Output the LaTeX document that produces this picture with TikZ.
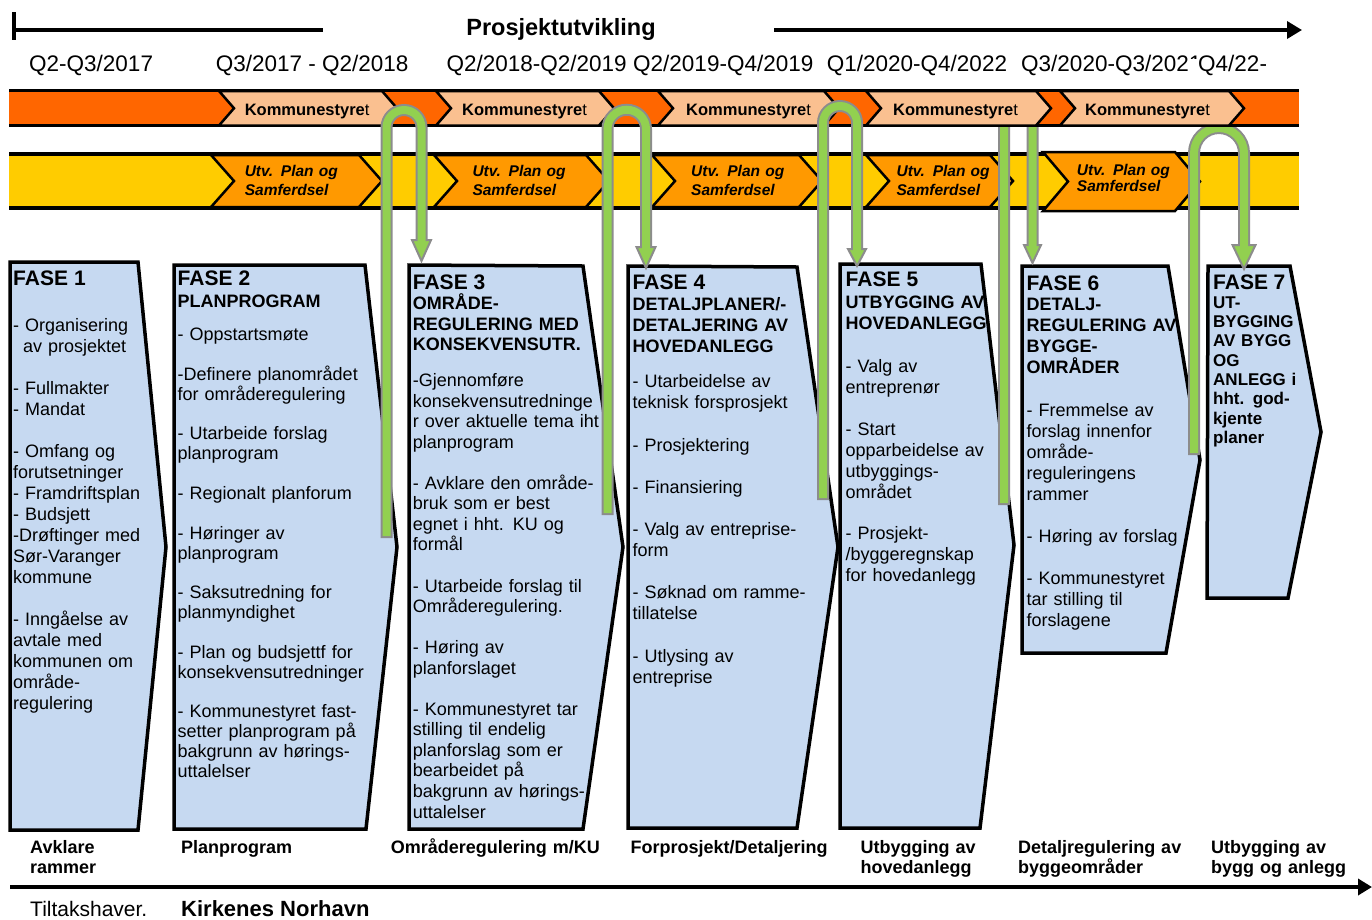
\documentclass[tikz,border=0pt]{standalone}
\usepackage{fontspec}
\setmainfont{Liberation Sans}
\usetikzlibrary{arrows.meta}
\definecolor{orangeband}{RGB}{255,102,0}
\definecolor{kfill}{RGB}{250,192,144}
\definecolor{yellowband}{RGB}{255,204,0}
\definecolor{ufill}{RGB}{255,153,0}
\definecolor{boxfill}{RGB}{198,217,241}
\definecolor{tubegreen}{RGB}{146,208,80}
\definecolor{tubegray}{RGB}{140,140,140}
\newcommand\fh[1]{{\fontsize{21}{21}\selectfont\bfseries #1}}
% chevron: L, R, top, bottom, depth, style
\newcommand\mychev[6]{\draw[#6] (#1,#3) -- ({#2-#5},#3) -- (#2,{(#3+#4)/2}) -- ({#2-#5},#4) -- (#1,#4) -- ({#1+#5},{(#3+#4)/2}) -- cycle;}
% green U-arrow: name, Lx, bottom, Rx, arc centre y, head base y, tip y, half width
\newcommand\garrow[8]{%
  \coordinate (#1-from) at (#2,#3);
  \coordinate (#1-turnL) at (#2,#5);
  \coordinate (#1-base) at (#4,#6);
  \coordinate (#1-inner) at (#4,{#6+3});
  \coordinate (#1-to) at (#4,#7);
  \draw[tubeout] (#1-from) -- (#1-turnL) arc[start angle=180,end angle=360,radius={(#4-#2)/2}] -- (#1-base);
  \filldraw[headstyle] ([xshift=-#8pt]#1-base) -- ([xshift=#8pt]#1-base) -- (#1-to) -- cycle;
  \draw[tubein,shorten <=2pt] (#1-from) -- (#1-turnL) arc[start angle=180,end angle=360,radius={(#4-#2)/2}] -- (#1-inner);
}
\begin{document}
\begin{tikzpicture}[x=1pt,y=-1pt,
  bandline/.style={line width=3.5pt},
  kchev/.style={fill=kfill,draw=black,line width=2.5pt,line join=miter},
  uchev/.style={fill=ufill,draw=black,line width=2.5pt,line join=miter},
  boxline/.style={draw=black,line width=3.5pt,line join=miter},
  tubeout/.style={draw=tubegray,line width=12pt},
  tubein/.style={draw=tubegreen,line width=8pt},
  headstyle/.style={fill=tubegreen,draw=tubegray,line width=2pt,line join=miter},
  ktext/.style={anchor=base west,inner sep=0pt,font=\fontsize{16.5}{18}\selectfont},
  utext/.style={anchor=base west,inner sep=0pt,text width=130pt,align=left,font=\bfseries\itshape\fontsize{15.5}{18.3}\selectfont},
  qlabel/.style={anchor=base west,inner sep=0pt,font=\fontsize{22.5}{24}\selectfont},
  blabel/.style={anchor=base west,inner sep=0pt,text width=240pt,align=left,font=\bfseries\fontsize{18}{20.5}\selectfont},
  ptext/.style={anchor=base west,inner sep=0pt,text width=260pt,align=left}
]
\useasboundingbox (0,0) rectangle (1372,919);
\fill[white] (0,0) rectangle (1372,919);

% ---------- header ----------
\coordinate (h0) at (14,12);
\coordinate (h1) at (14,40);
\coordinate (h2) at (14,30);
\coordinate (h3) at (323,30);
\draw[line width=3.5pt] (h0) -- (h1);
\draw[line width=3.5pt] (h2) -- (h3);
\node[anchor=base,inner sep=0pt,font=\bfseries\fontsize{23.5}{25}\selectfont] (title) at (561,35) {Prosjektutvikling};
\coordinate (ta) at (774,30);
\coordinate (tb) at (1302,30);
\draw[line width=3.5pt,-{Triangle[length=15pt,width=17pt]}] (ta) -- (tb);

\node[qlabel] (q1) at (29,71.5) {Q2-Q3/2017};
\node[qlabel] (q2) at (215.6,71.5) {Q3/2017 - Q2/2018};
\node[qlabel] (q3) at (446.4,71.5) {Q2/2018-Q2/2019};
\node[qlabel] (q4) at (633,71.5) {Q2/2019-Q4/2019};
\node[qlabel] (q5) at (826.7,71.5) {Q1/2020-Q4/2022};
\node[qlabel] (q6) at (1021,71.5) {Q3/2020-Q3/2021};
\node[qlabel,fill=white,inner xsep=10pt,text height=12.5pt,text depth=6pt] (q7) at (1188,71.5) {Q4/22-};

% ---------- phase boxes: fill ----------
\fill[boxfill] (10,262) -- (138,262) -- (166,547) -- (138,830) -- (10,830) -- cycle;
\fill[boxfill] (174,265) -- (365,265) -- (397,547) -- (366,829) -- (174,829) -- cycle;
\fill[boxfill] (409,265) -- (583,266) -- (623,547) -- (583,829) -- (409,829) -- cycle;
\fill[boxfill] (628,266) -- (797,267) -- (838,547) -- (797,828) -- (628,828) -- cycle;
\fill[boxfill] (840,264) -- (981,264) -- (1014,545) -- (980,828) -- (840,828) -- cycle;
\fill[boxfill] (1022,266) -- (1168,266) -- (1200,460) -- (1166,653) -- (1022,653) -- cycle;
\fill[boxfill] (1208,266) -- (1290,266) -- (1321,432) -- (1288,598) -- (1207,598) -- cycle;

% ---------- phase texts ----------
\node[ptext,font=\fontsize{18}{21}\selectfont] (f1) at (13,285.7) {\fh{FASE 1}\\[25pt]
- Organisering\\
\hspace*{10pt}av prosjektet\\[\baselineskip]
- Fullmakter\\
- Mandat\\[\baselineskip]
- Omfang og\\
forutsetninger\\
- Framdriftsplan\\
- Budsjett\\
-Drøftinger med\\
Sør-Varanger\\
kommune\\[\baselineskip]
- Inngåelse av\\
avtale med\\
kommunen om\\
område-\\
regulering};

\node[ptext,font=\fontsize{18}{19.85}\selectfont] (f2) at (177.5,285.7) {\fh{FASE 2}\\[1.75pt]
\textbf{PLANPROGRAM}\\[13.5pt]
- Oppstartsmøte\\[\baselineskip]
-Definere planområdet\\
for områderegulering\\[\baselineskip]
- Utarbeide forslag\\
planprogram\\[\baselineskip]
- Regionalt planforum\\[\baselineskip]
- Høringer av\\
planprogram\\[\baselineskip]
- Saksutredning for\\
planmyndighet\\[\baselineskip]
- Plan og budsjettf for\\
konsekvensutredninger\\[\baselineskip]
- Kommunestyret fast-\\
setter planprogram på\\
bakgrunn av hørings-\\
uttalelser};

\node[ptext,font=\fontsize{18}{20.55}\selectfont] (f3) at (412.7,289.3) {\fh{FASE 3}\\
\textbf{OMRÅDE-}\\
\textbf{REGULERING MED}\\
\textbf{KONSEKVENSUTR.}\\[15pt]
-Gjennomføre\\
konsekvensutredninge\\
r over aktuelle tema iht\\
planprogram\\[\baselineskip]
- Avklare den område-\\
bruk som er best\\
egnet i hht. KU og\\
formål\\[\baselineskip]
- Utarbeide forslag til\\
Områderegulering.\\[\baselineskip]
- Høring av\\
planforslaget\\[\baselineskip]
- Kommunestyret tar\\
stilling til endelig\\
planforslag som er\\
bearbeidet på\\
bakgrunn av hørings-\\
uttalelser};

\node[ptext,font=\fontsize{18}{21.1}\selectfont] (f4) at (632.5,289.3) {\fh{FASE 4}\\[-0.4pt]
\textbf{DETALJPLANER/-}\\
\textbf{DETALJERING AV}\\
\textbf{HOVEDANLEGG}\\[14.5pt]
- Utarbeidelse av\\
teknisk forsprosjekt\\[\baselineskip]
- Prosjektering\\[\baselineskip]
- Finansiering\\[\baselineskip]
- Valg av entreprise-\\
form\\[\baselineskip]
- Søknad om ramme-\\
tillatelse\\[\baselineskip]
- Utlysing av\\
entreprise};

\node[ptext,font=\fontsize{18}{20.9}\selectfont] (f5) at (845.5,286.7) {\fh{FASE 5}\\[0.7pt]
\textbf{UTBYGGING AV}\\
\textbf{HOVEDANLEGG}\\[22.5pt]
- Valg av\\
entreprenør\\[\baselineskip]
- Start\\
opparbeidelse av\\
utbyggings-\\
området\\[\baselineskip]
- Prosjekt-\\
/byggeregnskap\\
for hovedanlegg};

\node[ptext,font=\fontsize{18}{21}\selectfont] (f6) at (1026.5,290) {\fh{FASE 6}\\[-1pt]
\textbf{DETALJ-}\\
\textbf{REGULERING AV}\\
\textbf{BYGGE-}\\
\textbf{OMRÅDER}\\[22.4pt]
- Fremmelse av\\
forslag innenfor\\
område-\\
reguleringens\\
rammer\\[\baselineskip]
- Høring av forslag\\[\baselineskip]
- Kommunestyret\\
tar stilling til\\
forslagene};

\node[ptext,font=\bfseries\fontsize{17}{19.3}\selectfont] (f7) at (1213,289.3) {\fh{FASE 7}\\[-0.3pt]
UT-\\
BYGGING\\
AV BYGG\\
OG\\
ANLEGG i\\
hht. god-\\
kjente\\
planer};

% ---------- phase boxes: borders ----------
\draw[boxline] (10,262) -- (138,262) -- (166,547) -- (138,830) -- (10,830) -- cycle;
\draw[boxline] (174,265) -- (365,265) -- (397,547) -- (366,829) -- (174,829) -- cycle;
\draw[boxline] (409,265) -- (583,266) -- (623,547) -- (583,829) -- (409,829) -- cycle;
\draw[boxline] (628,266) -- (797,267) -- (838,547) -- (797,828) -- (628,828) -- cycle;
\draw[boxline] (840,264) -- (981,264) -- (1014,545) -- (980,828) -- (840,828) -- cycle;
\draw[boxline] (1022,266) -- (1168,266) -- (1200,460) -- (1166,653) -- (1022,653) -- cycle;
\draw[boxline] (1208,266) -- (1290,266) -- (1321,432) -- (1288,598) -- (1207,598) -- cycle;

% ---------- yellow band ----------
\fill[yellowband] (9,154) rectangle (1299,208);
\draw[bandline] (9,154) -- (1299,154);
\draw[bandline] (9,208) -- (1299,208);
\mychev{211}{382}{155}{207}{23}{uchev}
\mychev{434}{609}{155}{207}{23}{uchev}
\mychev{652}{822}{155}{207}{23}{uchev}
\mychev{866}{1013}{155}{207}{23}{uchev}
\mychev{1043}{1200}{152}{211}{25}{uchev}
\node[utext] (u1) at (244.6,176.7) {Utv. Plan og\\Samferdsel};
\node[utext] (u2) at (472.3,176.7) {Utv. Plan og\\Samferdsel};
\node[utext] (u3) at (691,176.7) {Utv. Plan og\\Samferdsel};
\node[utext] (u4) at (896.4,176.7) {Utv. Plan og\\Samferdsel};
\node[utext,font=\bfseries\itshape\fontsize{15.5}{16.7}\selectfont] (u5) at (1076.7,175) {Utv. Plan og\\Samferdsel};

% ---------- arrows behind the council band ----------
\garrow{a4}{1004}{505}{1032.5}{112}{245}{263}{8.5}
\garrow{a5}{1194}{455}{1244}{153}{245}{269}{11.5}

% ---------- orange band ----------
\fill[orangeband] (9,90.5) rectangle (1299,125.5);
\draw[bandline] (9,90.5) -- (1299,90.5);
\draw[bandline] (9,125.5) -- (1299,125.5);
\mychev{219}{397}{91}{125.5}{15}{kchev}
\mychev{436}{614}{91}{125.5}{15}{kchev}
\mychev{658}{839}{91}{125.5}{15}{kchev}
\mychev{866}{1051}{91}{125.5}{15}{kchev}
\mychev{1060}{1244}{91}{125.5}{15}{kchev}
\node[ktext] (k1) at (244.6,115) {\textbf{Kommunestyre}t};
\node[ktext] (k2) at (462,115) {\textbf{Kommunestyre}t};
\node[ktext] (k3) at (686,115) {\textbf{Kommunestyre}t};
\node[ktext] (k4) at (893,115) {\textbf{Kommunestyre}t};
\node[ktext] (k5) at (1085,115) {\textbf{Kommunestyre}t};

% ---------- arrows in front ----------
\garrow{a1}{386.5}{538}{421.5}{127.5}{240}{261}{9.5}
\garrow{a2}{607.5}{515}{646}{129}{247}{268}{9.5}
\garrow{a3}{823}{500}{857}{123}{249}{266}{9}

% ---------- bottom labels ----------
\node[blabel] (b1) at (30,853.3) {Avklare\\rammer};
\node[blabel] (b2) at (180.8,853.3) {Planprogram};
\node[blabel] (b3) at (390.6,853.3) {Områderegulering m/KU};
\node[blabel] (b4) at (630.4,853.3) {Forprosjekt/Detaljering};
\node[blabel] (b5) at (860.4,853.3) {Utbygging av\\hovedanlegg};
\node[blabel] (b6) at (1018,853.3) {Detaljregulering av\\byggeområder};
\node[blabel] (b7) at (1211,853.3) {Utbygging av\\bygg og anlegg};

\coordinate (ba) at (10,887);
\coordinate (bb) at (1372,887);
\draw[line width=4pt,-{Triangle[length=14pt,width=16pt]}] (ba) -- (bb);

\node[anchor=base west,inner sep=0pt,font=\fontsize{21}{22}\selectfont] (tilt) at (30,916) {Tiltakshaver.};
\node[anchor=base west,inner sep=0pt,font=\bfseries\fontsize{22}{23}\selectfont] (kn) at (181,916) {Kirkenes Norhavn};
\end{tikzpicture}
\end{document}
